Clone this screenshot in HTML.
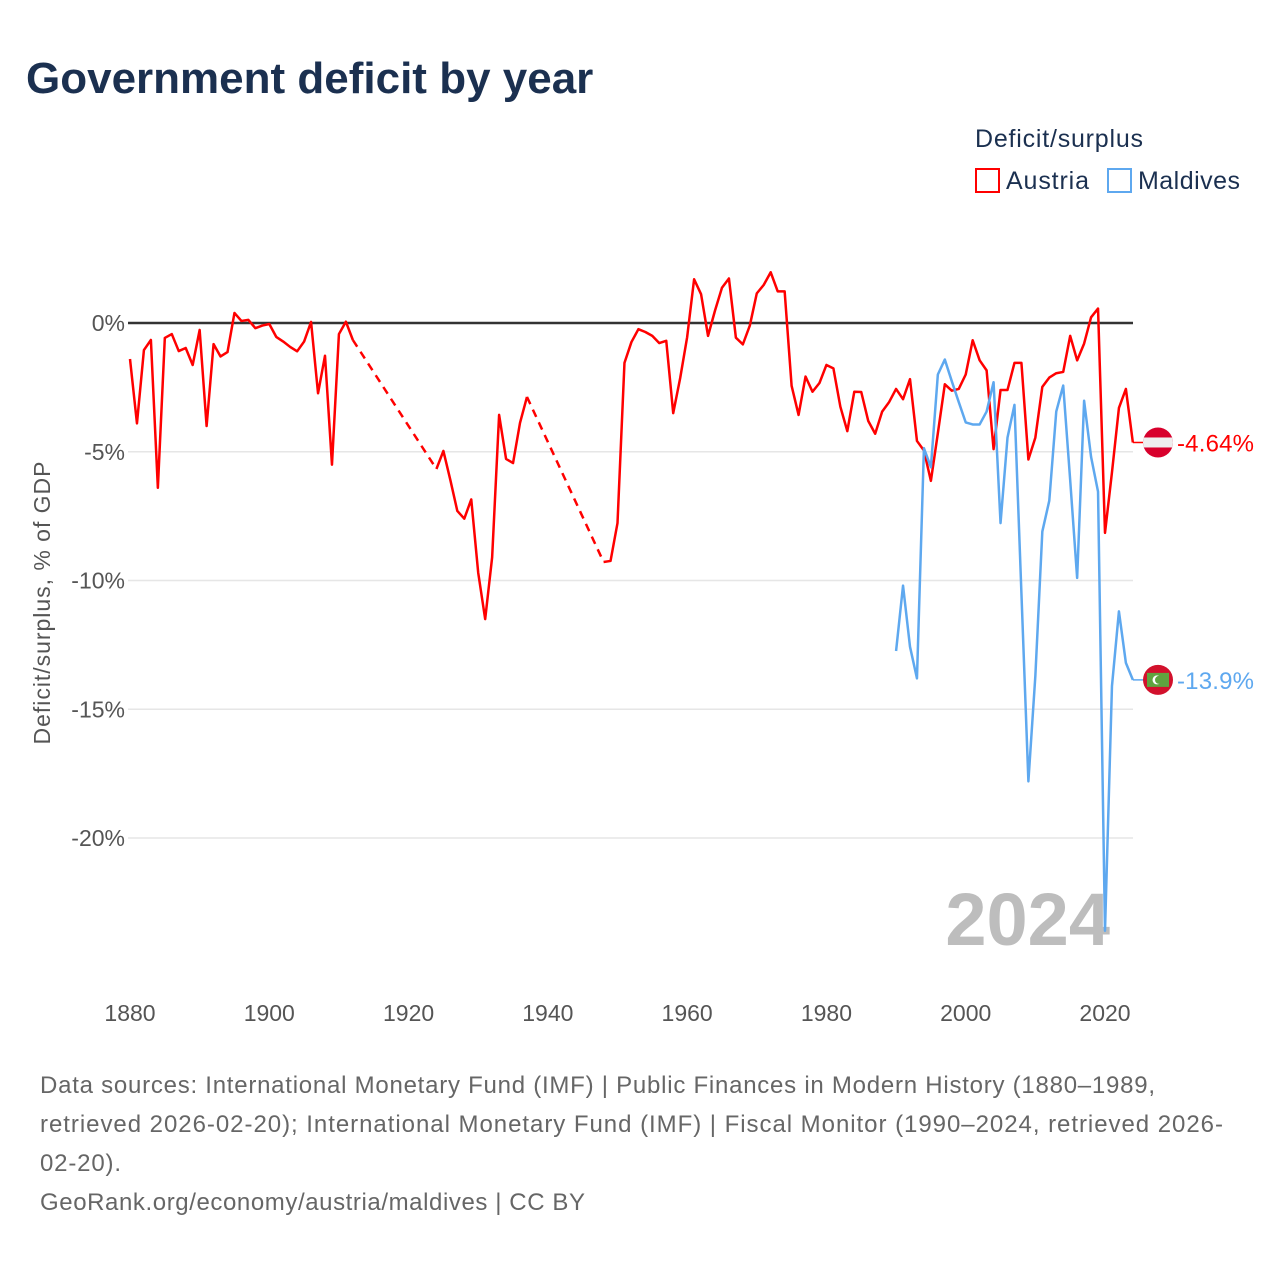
<!DOCTYPE html>
<html><head><meta charset="utf-8"><style>
body{margin:0;background:#fff;font-family:"Liberation Sans",sans-serif;}
#wrap{position:relative;width:1280px;height:1280px;overflow:hidden;background:#fff}
</style></head><body>
<div id="wrap">
<svg id="chart" width="1280" height="1280" xmlns="http://www.w3.org/2000/svg">
<text x="26" y="93" font-size="44" font-weight="bold" fill="#1b3050">Government deficit by year</text>
<text x="975" y="147" font-size="25" fill="#1b3050" textLength="168">Deficit/surplus</text>
<g><rect x="976" y="169" width="23" height="23" fill="none" stroke="#ff0000" stroke-width="2"/><text x="1006" y="189" font-size="25" fill="#1b3050" textLength="83">Austria</text></g>
<g><rect x="1108" y="169" width="23" height="23" fill="none" stroke="#5ea8ef" stroke-width="2"/><text x="1138" y="189" font-size="25" fill="#1b3050" textLength="102">Maldives</text></g>
<text transform="translate(50,603) rotate(-90)" text-anchor="middle" font-size="23" fill="#555" textLength="283">Deficit/surplus, % of GDP</text>
<g id="grid"></g><g id="yticks"></g><g id="xticks"></g>
<text x="1110" y="945" text-anchor="end" font-size="74" font-weight="bold" fill="#bdbdbd">2024</text>
<g id="series"></g>
<g id="flags"></g>
<g font-size="24" fill="#666">
<text x="40" y="1093" textLength="1115">Data sources: International Monetary Fund (IMF) | Public Finances in Modern History (1880–1989,</text>
<text x="40" y="1132" textLength="1183">retrieved 2026-02-20); International Monetary Fund (IMF) | Fiscal Monitor (1990–2024, retrieved 2026-</text>
<text x="40" y="1171" textLength="81">02-20).</text>
<text x="40" y="1210" textLength="545">GeoRank.org/economy/austria/maldives | CC BY</text>
</g>
</svg>
</div>
<script>
const yTicks=[0,-5,-10,-15,-20];
const yTickLabels=["0%","-5%","-10%","-15%","-20%"];
const xTicks=[1880,1900,1920,1940,1960,1980,2000,2020];
const austriaYears=[1880,1881,1882,1883,1884,1885,1886,1887,1888,1889,1890,1891,1892,1893,1894,1895,1896,1897,1898,1899,1900,1901,1902,1903,1904,1905,1906,1907,1908,1909,1910,1911,1912,1924,1925,1926,1927,1928,1929,1930,1931,1932,1933,1934,1935,1936,1937,1948,1949,1950,1951,1952,1953,1954,1955,1956,1957,1958,1959,1960,1961,1962,1963,1964,1965,1966,1967,1968,1969,1970,1971,1972,1973,1974,1975,1976,1977,1978,1979,1980,1981,1982,1983,1984,1985,1986,1987,1988,1989,1990,1991,1992,1993,1994,1995,1996,1997,1998,1999,2000,2001,2002,2003,2004,2005,2006,2007,2008,2009,2010,2011,2012,2013,2014,2015,2016,2017,2018,2019,2020,2021,2022,2023,2024];
const austriaValues=[-1.4,-3.9,-1.05,-0.66,-6.4,-0.58,-0.43,-1.09,-0.97,-1.63,-0.27,-4.0,-0.82,-1.3,-1.13,0.39,0.08,0.12,-0.2,-0.1,-0.04,-0.54,-0.72,-0.93,-1.1,-0.72,0.04,-2.73,-1.27,-5.5,-0.43,0.05,-0.66,-5.67,-4.97,-6.1,-7.3,-7.6,-6.85,-9.7,-11.5,-9.1,-3.57,-5.28,-5.44,-3.88,-2.87,-9.28,-9.24,-7.77,-1.55,-0.74,-0.24,-0.35,-0.5,-0.78,-0.69,-3.5,-2.14,-0.55,1.7,1.12,-0.5,0.48,1.37,1.73,-0.57,-0.83,-0.1,1.15,1.48,1.97,1.23,1.23,-2.44,-3.57,-2.08,-2.67,-2.33,-1.63,-1.76,-3.25,-4.2,-2.67,-2.68,-3.8,-4.3,-3.44,-3.07,-2.56,-2.96,-2.18,-4.58,-4.95,-6.13,-4.28,-2.38,-2.63,-2.56,-2.0,-0.67,-1.45,-1.84,-4.9,-2.6,-2.6,-1.55,-1.55,-5.3,-4.45,-2.48,-2.12,-1.95,-1.9,-0.5,-1.45,-0.8,0.22,0.56,-8.15,-5.8,-3.3,-2.56,-4.64];
const maldivesYears=[1990,1991,1992,1993,1994,1995,1996,1997,1998,1999,2000,2001,2002,2003,2004,2005,2006,2007,2008,2009,2010,2011,2012,2013,2014,2015,2016,2017,2018,2019,2020,2021,2022,2023,2024];
const maldivesValues=[-12.74,-10.2,-12.57,-13.8,-4.86,-5.6,-2.0,-1.42,-2.26,-3.07,-3.86,-3.94,-3.94,-3.44,-2.3,-7.77,-4.45,-3.18,-10.5,-17.8,-13.7,-8.1,-6.9,-3.44,-2.43,-6.1,-9.9,-3.02,-5.2,-6.55,-23.6,-14.1,-11.2,-13.2,-13.86];

const NS="http://www.w3.org/2000/svg";
const xS=y=>130+(y-1880)*(975/140);
const yS=v=>323-v*25.75;
function mk(tag,attrs,parent){const e=document.createElementNS(NS,tag);for(const k in attrs)e.setAttribute(k,attrs[k]);parent.appendChild(e);return e;}
const grid=document.getElementById('grid'),yt=document.getElementById('yticks'),xt=document.getElementById('xticks'),ser=document.getElementById('series'),fl=document.getElementById('flags');
yTicks.forEach((t,i)=>{
  if(t!==0){const l=mk('line',{x1:128,x2:1133,y1:yS(t),y2:yS(t),stroke:'#e6e6e6','stroke-width':1.5},grid);
  
  }
  const tx=mk('text',{x:125,y:yS(t)+8,'text-anchor':'end','font-size':23,fill:'#555'},yt);tx.textContent=yTickLabels[i];
  
  
});
xTicks.forEach(t=>{const tx=mk('text',{x:xS(t),y:1021,'text-anchor':'middle','font-size':23,fill:'#555'},xt);tx.textContent=t;
  
  });
function drawSeries(years,vals,color,name){
  const g=mk('g',{},ser);
  
  
  let solid='',started=false;
  for(let i=0;i<years.length;i++){
    const x=xS(years[i]),y=yS(vals[i]);
    if(i>0&&years[i]-years[i-1]>1){
      const d=mk('line',{x1:xS(years[i-1]),y1:yS(vals[i-1]),x2:x,y2:y,stroke:color,'stroke-width':2.5,'stroke-dasharray':'8 6'},g);
      
      
      solid+=' M'+x+','+y;
    } else solid+=(started?' L':'M')+x+','+y;
    started=true;
  }
  mk('path',{d:solid,fill:'none',stroke:color,'stroke-width':2.5,'stroke-linejoin':'round'},g);
  const ly=yS(vals[vals.length-1]),lx=xS(years[years.length-1]);
  mk('line',{x1:lx,y1:ly,x2:1145,y2:ly,stroke:color,'stroke-width':1.5},g);
}
drawSeries(austriaYears,austriaValues,'#ff0000','austria');
drawSeries(maldivesYears,maldivesValues,'#5ea8ef','maldives');
const ay=yS(austriaValues[austriaValues.length-1]),my=yS(maldivesValues[maldivesValues.length-1]);
const fa=mk('g',{},fl);


mk('clipPath',{id:'ca'},fa);
mk('circle',{cx:1158,cy:ay,r:15},document.getElementById('ca'));
mk('rect',{x:1143,y:ay-15,width:30,height:30,fill:'#d8002c','clip-path':'url(#ca)'},fa);
mk('rect',{x:1143,y:ay-5,width:30,height:10,fill:'#eeeeee','clip-path':'url(#ca)'},fa);
const ta=mk('text',{x:1177,y:ay+9,'font-size':24,fill:'#ff0000',textLength:77},fa);ta.textContent='-4.64%';
const fm=mk('g',{},fl);


mk('circle',{cx:1158,cy:my,r:15,fill:'#d2112c'},fm);
mk('rect',{x:1147,y:my-7,width:22,height:14,fill:'#5fa43f'},fm);
mk('circle',{cx:1157,cy:my,r:4.5,fill:'#fff'},fm);
mk('circle',{cx:1159,cy:my,r:4,fill:'#5fa43f'},fm);
const tm=mk('text',{x:1177,y:my+9,'font-size':24,fill:'#5ea8ef',textLength:77},fm);tm.textContent='-13.9%';
const z=mk('line',{x1:128,x2:1133,y1:yS(0),y2:yS(0),stroke:'#333','stroke-width':2.5},grid);


</script>
</body></html>
